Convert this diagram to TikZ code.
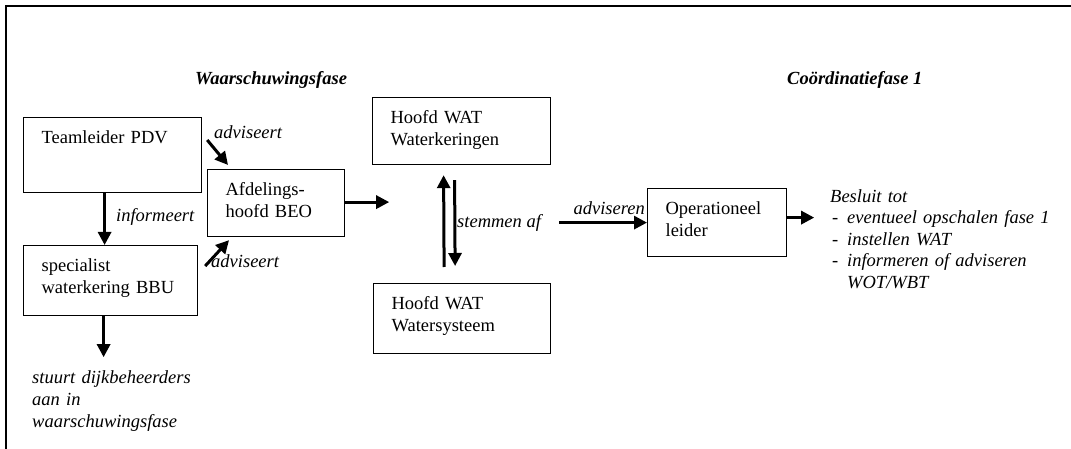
\documentclass[tikz,border=0pt]{standalone}
\usepackage{fontspec}
\setmainfont{Liberation Serif}
\usetikzlibrary{positioning,calc,arrows.meta}

\begin{document}
\begin{tikzpicture}[
  x=1pt, y=-1pt,
  >={Triangle[length=13pt,width=13pt]},
  every node/.style={font=\fontsize{18.5}{22}\selectfont},
  box/.style={draw,line width=1.2pt,anchor=north west,inner xsep=18pt,inner ysep=0pt,align=left,text height=26pt},
  lbl/.style={inner sep=0pt,font=\fontsize{18.5}{22}\selectfont\itshape},
  kop/.style={inner sep=0pt,anchor=base west,font=\fontsize{18.5}{22}\selectfont\bfseries\itshape},
  pijl/.style={->,line width=3pt},
  ]
  \useasboundingbox (0,0) rectangle (1071,449);
  \draw[line width=2pt] (1071,6) -- (6,6) -- (6,449);
  \node[kop](waarsch) at (195,85) {Waarschuwingsfase};
  \node[kop](coord) at (787,85) {Coördinatiefase 1};
  \node[box,text width=142pt,text depth=49pt](teamleider) at (23,117) {Teamleider PDV};
  \node[box,text width=138pt,text depth=44pt](specialist) at (23,245) {specialist\\waterkering BBU};
  \node[box,text width=101pt,text depth=41pt](afdeling) at (207,169) {Afdelings-\\hoofd BEO};
  \node[box,text width=142pt,text depth=41pt](wkering) at (372,97) {Hoofd WAT\\Waterkeringen};
  \node[box,text width=141pt,text depth=44pt](wsysteem) at (373,283) {Hoofd WAT\\Watersysteem};
  \node[box,text width=103pt,text depth=42pt](opleider) at (647,188) {Operationeel\\leider};
  \node[lbl,anchor=base west](informeert) at (116,222) {informeert};
  \node[lbl,anchor=base west](adviseert1) at (214,139) {adviseert};
  \node[lbl,anchor=base west](adviseert2) at (211,268) {adviseert};
  \node[lbl,anchor=base west](stemmen) at (457,228) {stemmen af};
  \node[lbl,anchor=base east](adviseren) at (645,215) {adviseren};
  \node[lbl,anchor=north west,text width=170pt,align=left,text height=14pt](stuurt) at (32,369)
    {stuurt dijkbeheerders\\aan in\\waarschuwingsfase};
  \node[lbl,anchor=north west,text width=235pt,align=left,text height=14pt,
    font=\fontsize{18.5}{21.5}\selectfont\itshape](besluit) at (830,188)
    {Besluit tot\\
     \hspace*{2pt}\makebox[15pt][l]{-}eventueel opschalen fase 1\\
     \hspace*{2pt}\makebox[15pt][l]{-}instellen WAT\\
     \hspace*{2pt}\makebox[15pt][l]{-}informeren of adviseren\\
     \hspace*{17pt}WOT/WBT};
  \coordinate (stuurtop) at ($(specialist.south)+(-7,41)$);
  \coordinate (beoend) at ($(afdeling.east)+(44,-1)$);
  \coordinate (advstart) at ($(opleider.west)+(-88,0)$);
  \coordinate (opend) at ($(opleider.east)+(27,-5)$);
  \path[pijl]
  ($(teamleider.south)+(-8,0)$) edge ($(specialist.north)+(-6,0)$)
  ($(specialist.south)+(-7,0)$) edge (stuurtop)
  ($(teamleider.north east)+(5,23)$) edge ($(afdeling.north west)+(21,-4)$)
  ($(specialist.north east)+(7,21)$) edge ($(afdeling.south west)+(22,3)$)
  ($(afdeling.east)+(0,-1)$) edge (beoend)
  ($(wsysteem.north)+(-18,-16)$) edge ($(wkering.south)+(-18,10)$)
  ($(wkering.south)+(-7,15)$) edge ($(wsysteem.north)+(-7,-17)$)
  (advstart) edge (opleider.west)
  ($(opleider.east)+(0,-5)$) edge (opend);
\end{tikzpicture}
\end{document}
